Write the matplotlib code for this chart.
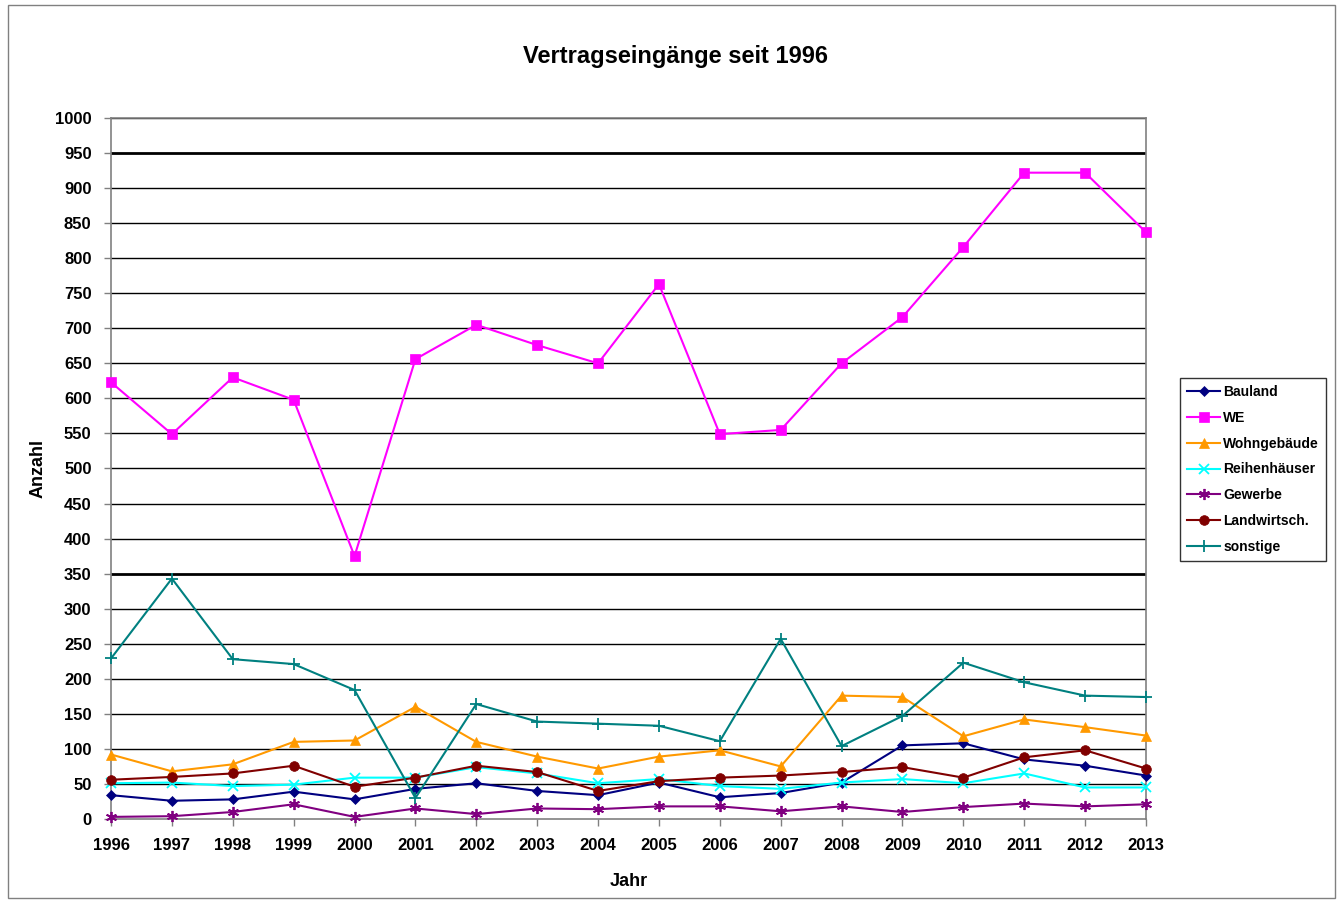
import matplotlib
matplotlib.use("Agg")
import matplotlib.pyplot as plt
from matplotlib.patches import Rectangle
import numpy as np

# Jahre
years = list(range(1996, 2014))

# Vertragseingänge je Kategorie
bauland = [34, 26, 28, 39, 28, 43, 51, 40, 34, 52, 31, 37, 52, 105, 108, 85, 76, 62]
we = [623, 549, 630, 598, 375, 656, 705, 676, 650, 763, 549, 555, 650, 716, 816, 922, 922, 837]
wohngebaeude = [92, 68, 78, 110, 112, 160, 110, 89, 72, 89, 98, 75, 176, 174, 118, 142, 131, 119]
reihenhaeuser = [51, 52, 47, 49, 59, 59, 74, 65, 51, 57, 47, 43, 52, 57, 51, 65, 45, 45]
gewerbe = [3, 4, 10, 21, 3, 15, 7, 15, 14, 18, 18, 11, 18, 10, 17, 22, 18, 21]
landwirtsch = [56, 60, 65, 76, 46, 59, 76, 67, 40, 54, 59, 62, 67, 74, 59, 88, 98, 72]
sonstige = [229, 343, 228, 221, 184, 30, 164, 139, 136, 133, 111, 257, 104, 147, 223, 195, 176, 174]

yticks = list(range(0, 1001, 50))

plt.rcParams['font.family'] = ['Liberation Sans', 'DejaVu Sans']

fig = plt.figure(figsize=(13.41, 9.01), dpi=100)
ax = fig.add_axes([111/1341, 1-819/901, (1146-111)/1341, (819-118)/901])

# Rahmen um die ganze Grafik
fig.patches.append(Rectangle((8/1341, 3/901), 1327/1341, 893/901, transform=fig.transFigure,
                             fill=False, edgecolor='#808080', linewidth=1))

# Gitterlinien
for y in yticks[1:]:
    lw = 2.0 if y in (350, 950) else 1.0
    ax.axhline(y, color='black', linewidth=lw, zorder=1)

series = [
    ('Bauland', bauland, '#000080', 'D', 5),
    ('WE', we, '#FF00FF', 's', 7),
    ('Wohngebäude', wohngebaeude, '#FF9900', '^', 7),
    ('Reihenhäuser', reihenhaeuser, '#00FFFF', 'x', 7),
    ('Gewerbe', gewerbe, '#800080', (6, 2, 0), 8),
    ('Landwirtsch.', landwirtsch, '#800000', 'o', 7),
    ('sonstige', sonstige, '#008080', '+', 8),
]
for name, vals, col, mk, ms in series:
    ax.plot(years, vals, color=col, marker=mk, markersize=ms, linewidth=1.5,
            markeredgewidth=1.3 if mk in ('x', '+', (6, 2, 0)) else 0.5,
            label=name, zorder=3, clip_on=False)

ax.set_xlim(1996, 2013)
ax.set_ylim(0, 1000)
ax.set_xticks(years)
ax.set_yticks(yticks)
ax.tick_params(axis='both', direction='out', color='#808080', length=5, width=1,
               labelsize=12)
ax.tick_params(axis='x', pad=9)
ax.tick_params(axis='y', pad=9)
for lab in ax.get_xticklabels() + ax.get_yticklabels():
    lab.set_fontweight('bold')
for sp in ax.spines.values():
    sp.set_color('#808080')
    sp.set_linewidth(1.2)

ax.set_xlabel('Jahr', fontsize=13, fontweight='bold', labelpad=14)
ax.set_ylabel('Anzahl', fontsize=13, fontweight='bold', labelpad=6)
fig.text(675/1341, 1-57/901, 'Vertragseingänge seit 1996', ha='center', va='center',
         fontsize=17, fontweight='bold')

leg = ax.legend(loc='upper left', bbox_to_anchor=(1180/1341, 1-378/901),
                bbox_transform=fig.transFigure, fancybox=False, frameon=True,
                edgecolor='black', prop={'weight': 'bold', 'size': 10},
                handlelength=2.4, handletextpad=0.2, labelspacing=0.85,
                borderpad=0.5, borderaxespad=0)
leg.get_frame().set_linewidth(1)

fig.savefig('out.png', dpi=100)
